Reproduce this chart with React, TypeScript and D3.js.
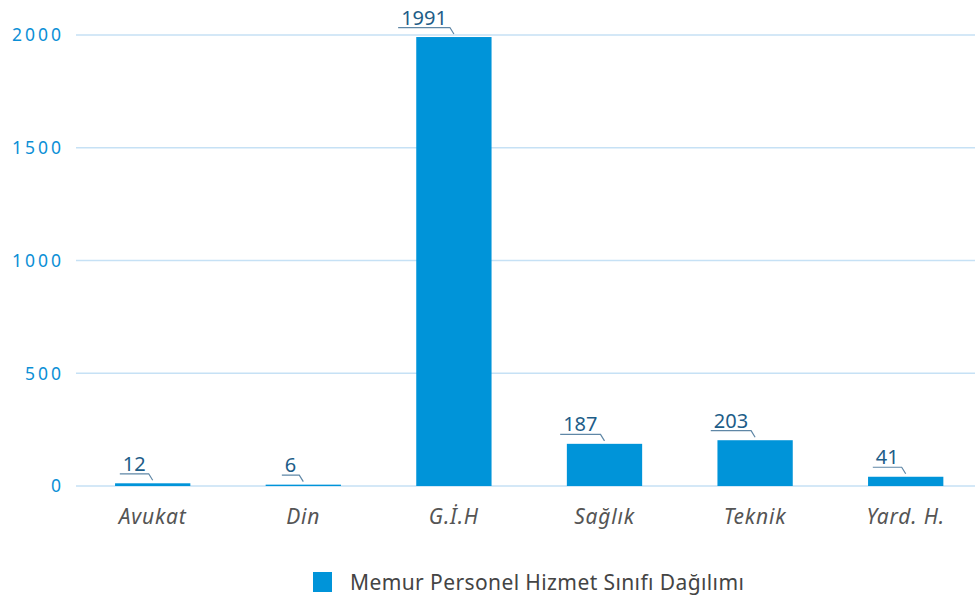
import React, { useEffect, useRef } from "react";
import * as d3 from "d3";

const categories = ["Avukat", "Din", "G.İ.H", "Sağlık", "Teknik", "Yard. H."];
const values = [12, 6, 1991, 187, 203, 41];
const yTicks = [0, 500, 1000, 1500, 2000];
const seriesName = "Memur Personel Hizmet Sınıfı Dağılımı";

const W = 975;
const H = 599;
const FONT = "'Noto Sans', 'Open Sans', sans-serif";

export default function App() {
  const ref = useRef<SVGSVGElement | null>(null);

  useEffect(() => {
    const svg = d3.select(ref.current);
    svg.selectAll("*").remove();

    const x = d3.scaleBand<string>().domain(categories).range([77.4, 981]).paddingInner(0.5).paddingOuter(0.25);
    const y = d3.scaleLinear().domain([0, 2000]).range([486, 35]);

    svg.append("g")
      .selectAll("line")
      .data(yTicks)
      .join("line")
      .attr("x1", 76)
      .attr("x2", 975)
      .attr("y1", (d) => y(d))
      .attr("y2", (d) => y(d))
      .attr("stroke", "#c6e1f5")
      .attr("stroke-width", 1.5);

    svg.append("g")
      .selectAll("text")
      .data(yTicks)
      .join("text")
      .attr("x", 64)
      .attr("y", (d) => y(d))
      .attr("dy", "0.36em")
      .attr("text-anchor", "end")
      .attr("font-family", FONT)
      .attr("font-size", 17.5)
      .attr("letter-spacing", 3)
      .attr("fill", "#0b8fd6")
      .text((d) => String(d));

    svg.append("g")
      .selectAll("rect")
      .data(values)
      .join("rect")
      .attr("x", (_, i) => x(categories[i])!)
      .attr("width", x.bandwidth())
      .attr("y", (d) => y(d))
      .attr("height", (d) => y(0) - y(d))
      .attr("fill", "#0094d9");

    const lg = svg.append("g");
    values.forEach((v, i) => {
      const cx = x(categories[i])! + x.bandwidth() / 2;
      const top = y(v);
      const t = lg.append("text")
        .attr("x", cx - 7)
        .attr("y", top - 12.5)
        .attr("text-anchor", "end")
        .attr("font-family", FONT)
        .attr("font-size", 20)
        .attr("fill", "#1d5d88")
        .text(String(v));
      const node = t.node() as SVGTextElement;
      const w = node.getComputedTextLength();
      const x0 = cx - 7 - w - 3;
      lg.append("path")
        .attr("d", `M${x0},${top - 9.5}H${cx - 4}L${cx},${top - 3}`)
        .attr("fill", "none")
        .attr("stroke", "#5f87a6")
        .attr("stroke-width", 1.2);
    });

    svg.append("g")
      .selectAll("text")
      .data(categories)
      .join("text")
      .attr("x", (d) => x(d)! + x.bandwidth() / 2)
      .attr("y", 524)
      .attr("text-anchor", "middle")
      .attr("font-family", FONT)
      .attr("font-style", "italic")
      .attr("font-size", 21)
      .attr("letter-spacing", 0.8)
      .attr("fill", "#555555")
      .text((d) => d);

    const leg = svg.append("g");
    leg.append("rect").attr("x", 313).attr("y", 572).attr("width", 19).attr("height", 20).attr("fill", "#0094d9");
    leg.append("text")
      .attr("x", 350)
      .attr("y", 590)
      .attr("font-family", FONT)
      .attr("font-size", 21)
      .attr("letter-spacing", 0.4)
      .attr("fill", "#444444")
      .text(seriesName);
  }, []);

  return <svg ref={ref} width={W} height={H} style={{ display: "block", position: "absolute", left: 0, top: 0 }} />;
}
